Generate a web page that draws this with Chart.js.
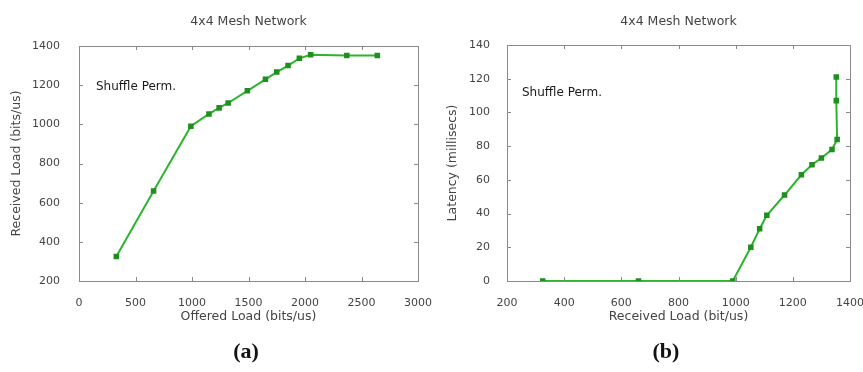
<!DOCTYPE html>
<html>
<head>
<meta charset="utf-8">
<script src="https://cdn.jsdelivr.net/npm/chart.js@4/dist/chart.umd.min.js"></script>
<style>
  body { margin: 0; background: #fff; width: 863px; height: 372px; position: relative; overflow: hidden; }
  .box { position: absolute; top: 0; width: 432px; height: 372px; }
  .cap { position: absolute; top: 338px; width: 100px; text-align: center; font: bold 22px "Liberation Serif", "Times New Roman", serif; color: #111; }
</style>
</head>
<body>
<div class="box" style="left:0"><canvas id="loadChart"></canvas></div>
<div class="box" style="left:431px"><canvas id="latencyChart"></canvas></div>
<div class="cap" style="left:196px">(a)</div>
<div class="cap" style="left:616px">(b)</div>
<script>
// values (shuffle permutation, 4x4 mesh)
const offeredLoad  = [330, 660, 990, 1150, 1240, 1320, 1490, 1650, 1750, 1850, 1950, 2050, 2370, 2640];
const receivedLoad = [325, 660, 990, 1053, 1084, 1109, 1171, 1230, 1267, 1300, 1337, 1355, 1352, 1352];
const latency      = [0, 0, 0, 20, 31, 39, 51, 63, 69, 73, 78, 84, 107, 121];

const chartTitle = '4x4 Mesh Network';
const seriesLabel = 'Shuffle Perm.';

const GREEN = '#2cb52c';
const AXIS = '#8a8a8a';
const TXT = '#444';
const FONT = '"DejaVu Sans", Arial, sans-serif';

// gnuplot-ish box: border + inward ticks on all four sides, title, key text
const frame = {
  id: 'frame',
  afterDraw(chart, args, opts) {
    const { ctx, chartArea: a, scales } = chart;
    ctx.save();
    ctx.strokeStyle = AXIS;
    ctx.lineWidth = 1;
    ctx.strokeRect(a.left + 0.5, a.top + 0.5, a.right - a.left, a.bottom - a.top);
    ctx.beginPath();
    scales.x.ticks.forEach(t => {
      const px = Math.round(scales.x.getPixelForValue(t.value)) + 0.5;
      ctx.moveTo(px, a.bottom); ctx.lineTo(px, a.bottom - 4);
      ctx.moveTo(px, a.top); ctx.lineTo(px, a.top + 4);
    });
    scales.y.ticks.forEach(t => {
      const py = Math.round(scales.y.getPixelForValue(t.value)) + 0.5;
      ctx.moveTo(a.left, py); ctx.lineTo(a.left + 4, py);
      ctx.moveTo(a.right, py); ctx.lineTo(a.right - 4, py);
    });
    ctx.stroke();

    ctx.fillStyle = TXT;
    ctx.font = '12.5px ' + FONT;
    ctx.textAlign = 'center';
    ctx.textBaseline = 'middle';
    ctx.fillText(chartTitle, (a.left + a.right) / 2, 22);

    ctx.fillStyle = '#1a1a1a';
    ctx.font = '12px ' + FONT;
    ctx.textAlign = 'left';
    ctx.fillText(seriesLabel, a.left + opts.keyX, opts.keyY);
    ctx.restore();
  }
};

function makeChart(id, xs, ys, xCfg, yCfg, pad, keyPos) {
  const points = xs.map((x, i) => ({ x: x, y: ys[i] }));
  return new Chart(document.getElementById(id), {
    type: 'scatter',
    data: {
      datasets: [{
        data: points,
        showLine: true,
        borderColor: GREEN,
        borderWidth: 2,
        backgroundColor: '#1f8f1f',
        pointBorderColor: '#1f8f1f',
        pointStyle: 'rect',
        pointRadius: 2.5,
        tension: 0
      }]
    },
    options: {
      responsive: true,
      maintainAspectRatio: false,
      animation: false,
      layout: { padding: { top: pad.top, right: pad.right, left: 0, bottom: 0 } },
      plugins: {
        legend: { display: false },
        tooltip: { enabled: false },
        frame: keyPos
      },
      scales: {
        x: {
          type: 'linear', min: xCfg.min, max: xCfg.max,
          grid: { display: false },
          border: { display: false },
          ticks: { stepSize: xCfg.step, color: TXT, font: { family: FONT, size: 11 }, padding: 8, maxRotation: 0, callback: v => String(v) },
          title: { display: true, text: xCfg.title, color: TXT, font: { family: FONT, size: 12.5 }, padding: { top: 4, bottom: 47.5 } },
          afterFit: s => { s.height = 372 - pad.bottomEdge; s.paddingLeft = 0; s.paddingRight = 0; }
        },
        y: {
          type: 'linear', min: yCfg.min, max: yCfg.max,
          grid: { display: false },
          border: { display: false },
          ticks: { stepSize: yCfg.step, color: TXT, font: { family: FONT, size: 11 }, padding: yCfg.tickPad, callback: v => String(v) },
          title: { display: true, text: yCfg.title, color: TXT, font: { family: FONT, size: 12.5 }, padding: { top: yCfg.titlePad, bottom: 0 } },
          afterFit: s => { s.width = pad.left; s.paddingTop = 0; s.paddingBottom = 0; }
        }
      }
    },
    plugins: [frame]
  });
}

makeChart('loadChart', offeredLoad, receivedLoad,
  { min: 0, max: 3000, step: 500, title: 'Offered Load (bits/us)' },
  { min: 200, max: 1400, step: 200, title: 'Received Load (bits/us)', tickPad: 11, titlePad: 9.5 },
  { top: 46, right: 14, left: 79, bottomEdge: 281 },
  { keyX: 17, keyY: 87 });

makeChart('latencyChart', receivedLoad, latency,
  { min: 200, max: 1400, step: 200, title: 'Received Load (bit/us)' },
  { min: 0, max: 140, step: 20, title: 'Latency (millisecs)', tickPad: 9, titlePad: 14.5 },
  { top: 45, right: 13, left: 76, bottomEdge: 281 },
  { keyX: 15, keyY: 93 });
</script>
</body>
</html>
